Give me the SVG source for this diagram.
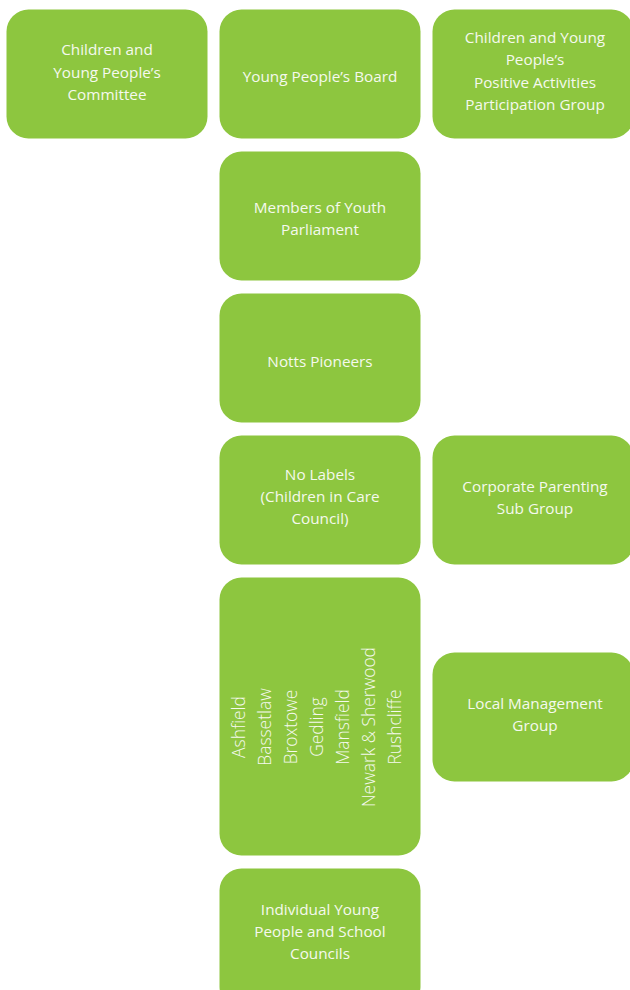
<svg xmlns="http://www.w3.org/2000/svg" width="630" height="990" viewBox="0 0 630 990">
<style>
.box{fill:#8dc63f}
.t{font-family:"Open Sans","Noto Sans","Liberation Sans",sans-serif;font-size:15.3px;fill:#f5f9ee;text-anchor:middle}
.r{font-family:"Open Sans","Noto Sans","Liberation Sans",sans-serif;font-size:17.4px;font-weight:300;fill:#f5f9ee;text-anchor:middle}
</style>
<rect width="630" height="990" fill="#ffffff"/>
<g id="connectors"/>
<g id="cyp-committee">
<rect class="box" x="6.5" y="9.5" width="201" height="129" rx="22"/>
<text class="t" x="107" y="55">Children and</text>
<text class="t" x="107" y="78">Young People’s</text>
<text class="t" x="107" y="100">Committee</text>
</g>
<g id="yp-board">
<rect class="box" x="219.5" y="9.5" width="201" height="129" rx="22"/>
<text class="t" x="320" y="82">Young People’s Board</text>
</g>
<g id="pa-group">
<rect class="box" x="432.5" y="9.5" width="201" height="129" rx="22"/>
<text class="t" x="535" y="43">Children and Young</text>
<text class="t" x="535" y="65">People’s</text>
<text class="t" x="535" y="88">Positive Activities</text>
<text class="t" x="535" y="110">Participation Group</text>
</g>
<g id="myp">
<rect class="box" x="219.5" y="151.5" width="201" height="129" rx="22"/>
<text class="t" x="320" y="213">Members of Youth</text>
<text class="t" x="320" y="235">Parliament</text>
</g>
<g id="notts-pioneers">
<rect class="box" x="219.5" y="293.5" width="201" height="129" rx="22"/>
<text class="t" x="320" y="367">Notts Pioneers</text>
</g>
<g id="no-labels">
<rect class="box" x="219.5" y="435.5" width="201" height="129" rx="22"/>
<text class="t" x="320" y="480">No Labels</text>
<text class="t" x="320" y="502">(Children in Care</text>
<text class="t" x="320" y="524">Council)</text>
</g>
<g id="corporate-parenting">
<rect class="box" x="432.5" y="435.5" width="201" height="129" rx="22"/>
<text class="t" x="535" y="492">Corporate Parenting</text>
<text class="t" x="535" y="514">Sub Group</text>
</g>
<g id="districts">
<rect class="box" x="219.5" y="577.5" width="201" height="278" rx="22"/>
<text class="r" transform="translate(245 727) rotate(-90)">Ashfield</text>
<text class="r" transform="translate(271 727) rotate(-90)">Bassetlaw</text>
<text class="r" transform="translate(297 727) rotate(-90)">Broxtowe</text>
<text class="r" transform="translate(323 727) rotate(-90)">Gedling</text>
<text class="r" transform="translate(349 727) rotate(-90)">Mansfield</text>
<text class="r" transform="translate(375 727) rotate(-90)">Newark &amp; Sherwood</text>
<text class="r" transform="translate(401 727) rotate(-90)">Rushcliffe</text>
</g>
<g id="local-management">
<rect class="box" x="432.5" y="652.5" width="201" height="129" rx="22"/>
<text class="t" x="535" y="709">Local Management</text>
<text class="t" x="535" y="731">Group</text>
</g>
<g id="individual">
<rect class="box" x="219.5" y="868.5" width="201" height="140" rx="22"/>
<text class="t" x="320" y="915">Individual Young</text>
<text class="t" x="320" y="937">People and School</text>
<text class="t" x="320" y="959">Councils</text>
</g>
</svg>
